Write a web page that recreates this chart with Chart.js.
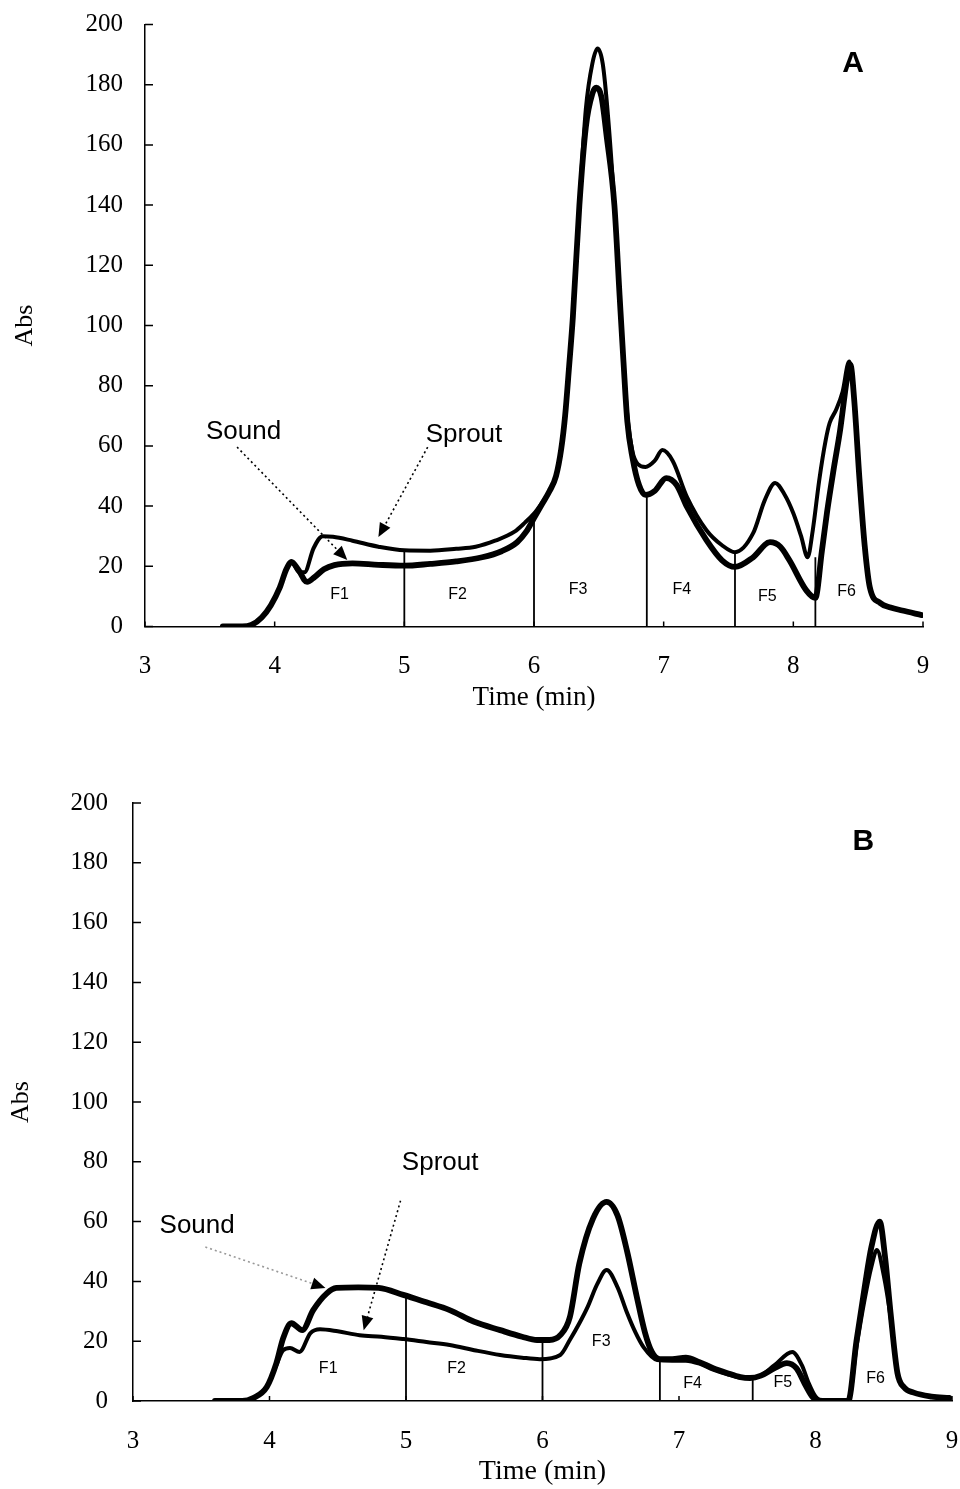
<!DOCTYPE html>
<html>
<head>
<meta charset="utf-8">
<script src="https://cdn.jsdelivr.net/npm/chart.js@4.4.0/dist/chart.umd.min.js"></script>
<style>
html, body { margin: 0; padding: 0; background: #fff; }
#wrap { position: relative; width: 960px; height: 1489px; }
.panel { position: absolute; left: 0; width: 960px; }
</style>
</head>
<body>
<div id="wrap">
  <div class="panel" style="top:0;height:745px"><canvas id="chartA" width="960" height="745"></canvas></div>
  <div class="panel" style="top:745px;height:744px"><canvas id="chartB" width="960" height="744"></canvas></div>
</div>
<script>
// axis ticks
var xTicks = [3, 4, 5, 6, 7, 8, 9];
var yTicks = [0, 20, 40, 60, 80, 100, 120, 140, 160, 180, 200];
var fractionNames = ["F1", "F2", "F3", "F4", "F5", "F6"];

// panel A : time (min) / abs
var soundA_t   = [3.6,3.75,3.82,3.9,3.97,4.04,4.09,4.13,4.18,4.25,4.31,4.38,4.46,4.6,4.8,5.0,5.2,5.4,5.6,5.75,5.87,5.94,6.0,6.06,6.12,6.17,6.21,6.24,6.27,6.3,6.35,6.4,6.45,6.48,6.52,6.56,6.62,6.66,6.69,6.72,6.76,6.81,6.86,6.93,7.02,7.1,7.18,7.33,7.45,7.55,7.69,7.82,7.9,7.97,8.1,8.17,8.22,8.26,8.31,8.36,8.42,8.44,8.47,8.51,8.55,8.59,8.67,8.75,8.84,8.99];
var soundA_abs = [0,0,0.5,3,7,13,19,21.5,19,14.8,16.5,19,20.4,21,20.5,20.2,20.8,21.6,23,25,28,31.5,36,40.5,45,50,59,70,86,103,140,166,177,179,176,163,140,110,88,68,56,47,43.7,45,49.3,47,39.7,28.7,22,19.8,23,28,26.5,22,12,9.5,25,38,52,65,84,87,75,49,27,13,7.8,6.3,5.3,3.8];
var sproutA_t   = [3.6,3.75,3.82,3.9,3.97,4.04,4.09,4.13,4.19,4.23,4.3,4.37,4.45,4.6,4.8,5.0,5.2,5.4,5.55,5.7,5.85,5.93,6.0,6.06,6.12,6.17,6.21,6.24,6.27,6.3,6.35,6.4,6.45,6.49,6.53,6.57,6.62,6.66,6.69,6.72,6.76,6.8,6.86,6.93,6.99,7.07,7.18,7.33,7.45,7.55,7.69,7.78,7.86,7.93,8.0,8.06,8.11,8.15,8.2,8.25,8.28,8.33,8.38,8.43,8.47,8.51,8.55,8.59,8.67,8.75,8.84,8.99];
var sproutA_abs = [0,0,0.5,3,7,13,19,21.5,18,18,26,30,29.8,28.5,26.5,25.3,25.2,25.8,26.5,28.5,31.5,34.5,37.5,41,45,50,59,70,86,103,140,172,187,192,187,170,140,110,88,70,58,54,53,55,58.6,55,43,32,27,24.7,31,42,47.7,44,37.6,30,23,32,48.7,62,67.6,72,78,88,75,49,27,13,7.8,6.3,5.3,3.8];
var cutA_t   = [5, 6, 6.87, 7.55, 8.17];
var cutA_top = [25, 38, 44, 25, 23];

// panel B
var soundB_t   = [3.6,3.8,3.88,3.98,4.05,4.1,4.16,4.24,4.32,4.42,4.49,4.65,4.8,4.98,5.15,5.32,5.5,5.69,5.85,5.96,6.05,6.13,6.2,6.27,6.37,6.47,6.55,6.62,6.69,6.75,6.8,6.86,6.95,7.05,7.15,7.25,7.35,7.45,7.52,7.6,7.7,7.79,7.86,7.93,7.98,8.05,8.24,8.3,8.36,8.41,8.47,8.51,8.55,8.6,8.65,8.72,8.85,8.98];
var soundB_abs = [0,0,1,4.7,12.6,21,26,23.7,30.4,36,37.8,38,37.8,35.5,33,30.4,26.5,23.7,21.5,20.4,20.4,22,28,46,61,66.6,62,50,35,23,16.5,14,14,14.5,13,11,9.4,8,7.7,8.5,11,12.7,11,5,1.3,0,0,20,38,51.6,60,48,29.4,9.4,4.5,2.8,1.5,1];
var sproutB_t   = [3.6,3.8,3.88,3.98,4.05,4.1,4.15,4.22,4.3,4.37,4.5,4.66,4.82,4.98,5.15,5.32,5.5,5.69,5.85,5.98,6.13,6.2,6.27,6.33,6.4,6.47,6.55,6.62,6.68,6.74,6.84,6.95,7.05,7.15,7.25,7.35,7.45,7.52,7.6,7.7,7.83,7.9,7.95,8.0,8.05,8.24,8.3,8.36,8.41,8.45,8.5,8.55,8.6,8.65,8.72,8.85,8.98];
var sproutB_abs = [0,0,1,4.7,12,17,17.7,16.4,22.7,24,23.3,22,21.5,20.7,19.7,18.7,17,15.4,14.5,14,15.4,20.4,26,31.4,39,43.8,38,29.4,23,18,13.7,13.5,13.5,12.5,10.5,9,7.8,7.7,8.5,12,16.4,12,6,1.5,0,0,18,34,45,50.5,42,28,9.4,4.5,2.8,1.5,1];
var cutB_t   = [5, 6, 6.86, 7.54];
var cutB_top = [35, 21, 13.5, 7.5];

Chart.defaults.color = "#000";
Chart.defaults.font.family = "'Liberation Serif', 'Times New Roman', serif";

function toPoints(ts, vs)
{
    return ts.map((t, i) => ({x: t, y: vs[i]}));
}

function cutPoints(ts, tops)
{
    var pts = [];
    for (let i = 0; i < ts.length; i++)
    {
        pts.push({x: ts[i], y: 0}, {x: ts[i], y: tops[i]}, {x: ts[i], y: null});
    }
    return pts;
}

// ticks of the original point inward
var inwardTicks = {
    id: "inwardTicks",
    afterDraw(chart)
    {
        var ctx = chart.ctx, xs = chart.scales.x, ys = chart.scales.y, a = chart.chartArea;
        ctx.save();
        ctx.strokeStyle = "#000";
        ctx.lineWidth = 1.5;
        ctx.beginPath();
        ys.ticks.forEach(t => {
            var py = ys.getPixelForValue(t.value);
            ctx.moveTo(a.left, py); ctx.lineTo(a.left + 8, py);
        });
        xs.ticks.forEach(t => {
            var px = xs.getPixelForValue(t.value);
            ctx.moveTo(px, a.bottom); ctx.lineTo(px, a.bottom - 5);
        });
        ctx.stroke();
        ctx.restore();
    }
};

function drawArrow(ctx, x1, y1, x2, y2, color)
{
    var ang = Math.atan2(y2 - y1, x2 - x1);
    var len = 14, half = 6;
    var bx = x2 - len * Math.cos(ang), by = y2 - len * Math.sin(ang);
    ctx.save();
    ctx.strokeStyle = color;
    ctx.fillStyle = "#000";
    ctx.lineWidth = 1.6;
    ctx.setLineDash([2, 3]);
    ctx.beginPath();
    ctx.moveTo(x1, y1);
    ctx.lineTo(bx, by);
    ctx.stroke();
    ctx.setLineDash([]);
    ctx.beginPath();
    ctx.moveTo(x2, y2);
    ctx.lineTo(bx + half * Math.sin(ang), by - half * Math.cos(ang));
    ctx.lineTo(bx - half * Math.sin(ang), by + half * Math.cos(ang));
    ctx.closePath();
    ctx.fill();
    ctx.restore();
}

var notes = {
    id: "notes",
    afterDatasetsDraw(chart, args, opts)
    {
        var ctx = chart.ctx, xs = chart.scales.x, ys = chart.scales.y;
        var X = v => xs.getPixelForValue(v), Y = v => ys.getPixelForValue(v);
        ctx.save();
        ctx.fillStyle = "#000";
        ctx.textAlign = "center";
        ctx.textBaseline = "middle";

        ctx.font = "16px 'Liberation Sans', Arial, sans-serif";
        opts.fracPos.forEach((p, i) => ctx.fillText(fractionNames[i], X(p[0]), Y(p[1])));

        ctx.font = "26px 'Liberation Sans', Arial, sans-serif";
        opts.labels.forEach(l => ctx.fillText(l.text, X(l.at[0]), Y(l.at[1])));

        ctx.font = "bold 30px 'Liberation Sans', Arial, sans-serif";
        ctx.fillText(opts.panel, X(opts.panelPos[0]), Y(opts.panelPos[1]));
        ctx.restore();

        opts.arrows.forEach(a => drawArrow(ctx, X(a.from[0]), Y(a.from[1]), X(a.to[0]), Y(a.to[1]), a.color));
    }
};

// no automatic label overflow padding: the plot box is set by hand
function noOverflow(s)
{
    s.paddingLeft = 0; s.paddingRight = 0; s.paddingTop = 0; s.paddingBottom = 0;
}

function makeChart(id, lay, sound, sprout, cuts)
{
    return new Chart(document.getElementById(id), {
        type: "line",
        data: {
            datasets: [
                {data: cuts, borderColor: "#000", borderWidth: 1.8, tension: 0, pointRadius: 0, spanGaps: false},
                {data: sprout, borderColor: "#000", borderWidth: 4, pointRadius: 0, cubicInterpolationMode: "monotone", borderJoinStyle: "round", borderCapStyle: "round"},
                {data: sound, borderColor: "#000", borderWidth: 5.8, pointRadius: 0, cubicInterpolationMode: "monotone", borderJoinStyle: "round", borderCapStyle: "round"}
            ]
        },
        options: {
            responsive: false,
            animation: false,
            layout: {padding: {left: 0, right: lay.padRight, top: lay.padTop, bottom: 0}},
            plugins: {
                legend: {display: false},
                tooltip: {enabled: false},
                notes: lay.notes
            },
            scales: {
                x: {
                    type: "linear", min: 3, max: 9,
                    afterBuildTicks: s => { s.ticks = xTicks.map(v => ({value: v})); },
                    afterFit: s => { s.height = lay.xHeight; noOverflow(s); },
                    grid: {display: true, drawOnChartArea: false, drawTicks: false},
                    border: {display: true, color: "#000", width: 1.5},
                    ticks: {font: {size: 25}, padding: lay.xTickPad, maxRotation: 0},
                    title: {display: true, text: "Time (min)", font: {size: lay.xTitleSize}, padding: {top: 0, bottom: lay.xTitlePad}}
                },
                y: {
                    min: 0, max: 200,
                    afterBuildTicks: s => { s.ticks = yTicks.map(v => ({value: v})); },
                    afterFit: s => { s.width = lay.yWidth; noOverflow(s); },
                    grid: {display: true, drawOnChartArea: false, drawTicks: false},
                    border: {display: true, color: "#000", width: 1.5},
                    ticks: {font: {size: 25}, padding: lay.yTickPad},
                    title: {display: true, text: "Abs", font: {size: 26}, padding: {top: lay.yTitlePad, bottom: 0}}
                }
            }
        },
        plugins: [inwardTicks, notes]
    });
}

var layoutA = {
    padRight: 37, padTop: 24.5, xHeight: 118.5, yWidth: 145,
    xTickPad: 25, xTitlePad: 31, xTitleSize: 27, yTickPad: 22, yTitlePad: 10,
    notes: {
        panel: "A", panelPos: [8.46, 187],
        fracPos: [[4.5, 10.5], [5.41, 10.5], [6.34, 12.1], [7.14, 12.1], [7.8, 10.1], [8.41, 11.5]],
        labels: [{text: "Sound", at: [3.76, 64.6]}, {text: "Sprout", at: [5.46, 63.6]}],
        arrows: [
            {from: [3.71, 59.6], to: [4.56, 22.1], color: "#000"},
            {from: [5.18, 59.6], to: [4.80, 29.7], color: "#000"}
        ]
    }
};

var layoutB = {
    padRight: 8, padTop: 58, xHeight: 88, yWidth: 133,
    xTickPad: 25, xTitlePad: 1, xTitleSize: 28, yTickPad: 25, yTitlePad: 6,
    notes: {
        panel: "B", panelPos: [8.35, 187],
        fracPos: [[4.43, 11], [5.37, 11], [6.43, 20], [7.1, 5.7], [7.76, 6], [8.44, 7.4]],
        labels: [{text: "Sound", at: [3.47, 58.5]}, {text: "Sprout", at: [5.25, 79.6]}],
        arrows: [
            {from: [3.53, 51.5], to: [4.41, 37.8], color: "#999"},
            {from: [4.96, 67], to: [4.69, 23.7], color: "#000"}
        ]
    }
};

makeChart("chartA", layoutA, toPoints(soundA_t, soundA_abs), toPoints(sproutA_t, sproutA_abs), cutPoints(cutA_t, cutA_top));
makeChart("chartB", layoutB, toPoints(soundB_t, soundB_abs), toPoints(sproutB_t, sproutB_abs), cutPoints(cutB_t, cutB_top));
</script>
</body>
</html>
